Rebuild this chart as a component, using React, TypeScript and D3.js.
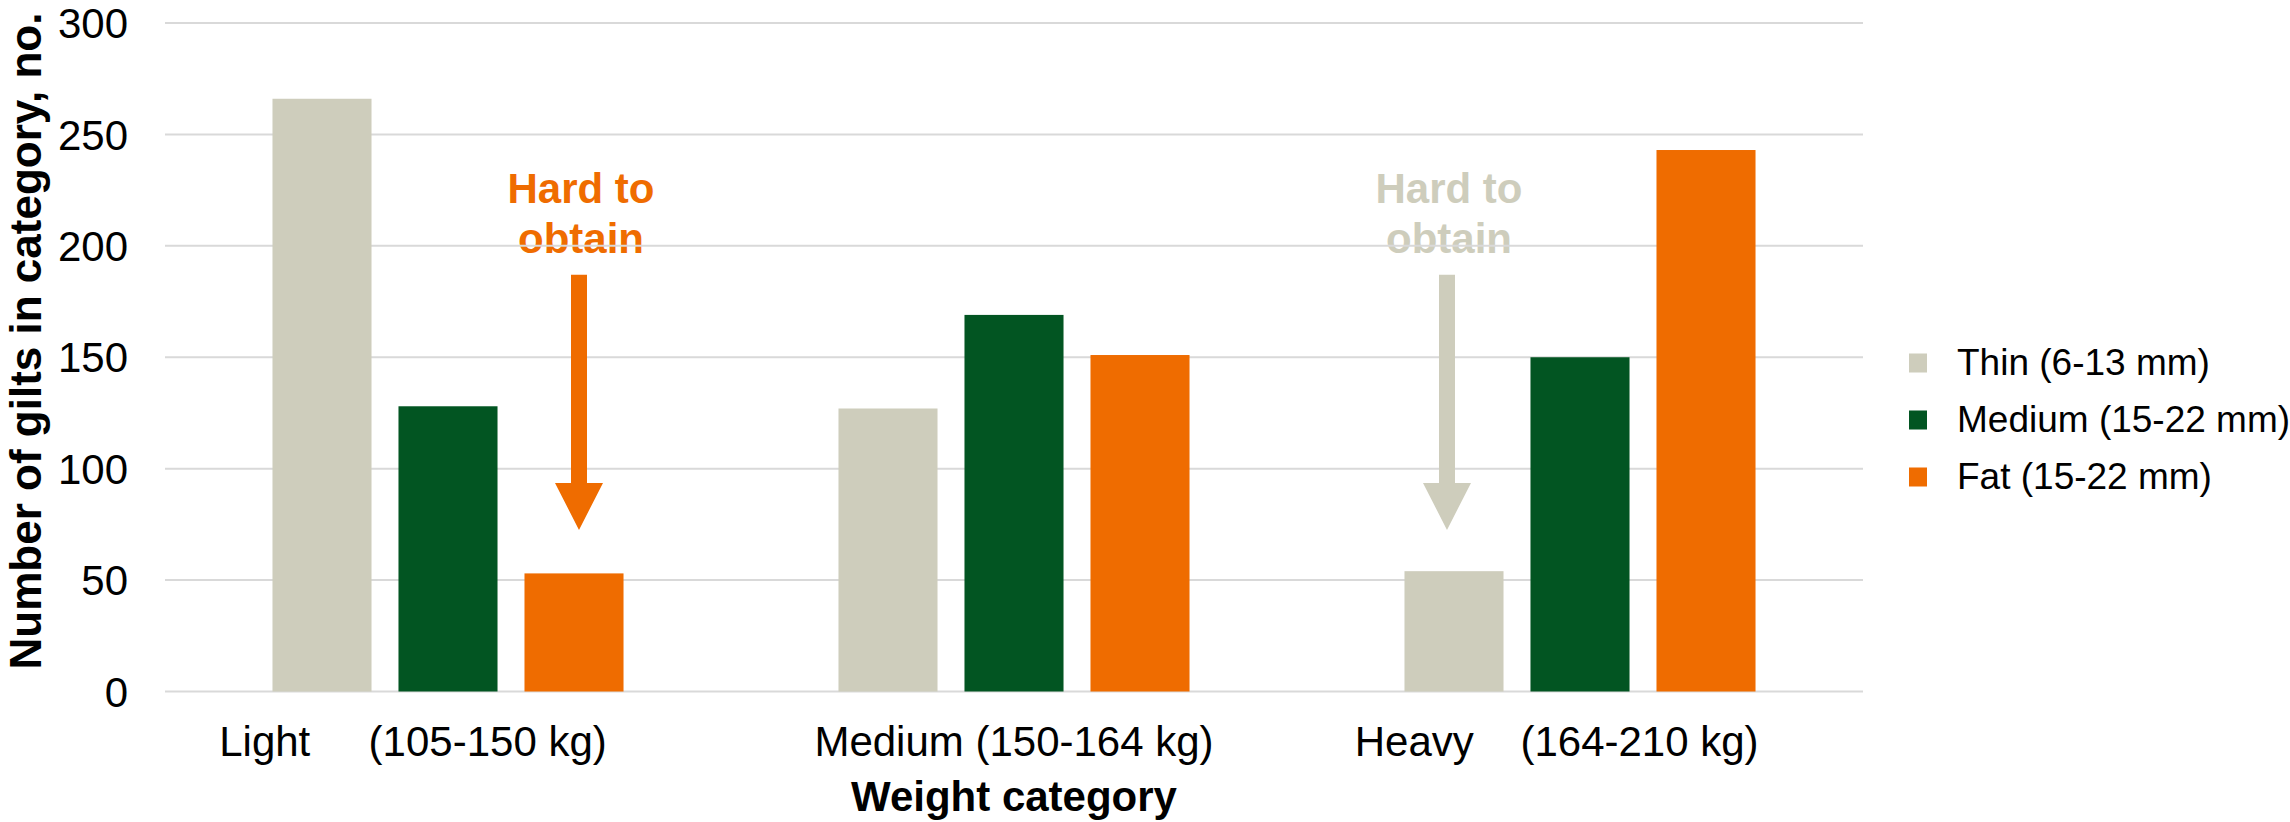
import React from "react";
import * as d3 from "d3";

const categories = ["Light", "Medium", "Heavy"];
const categoryLabels = [
  "Light     (105-150 kg)      ",
  "Medium (150-164 kg)",
  "Heavy    (164-210 kg)    ",
];
const seriesNames = ["Thin (6-13 mm)", "Medium (15-22 mm)", "Fat (15-22 mm)"];
const seriesColors = ["#CECDBC", "#025522", "#EF6C00"];
const thinValues = [266, 127, 54];
const mediumValues = [128, 169, 150];
const fatValues = [53, 151, 243];
const yTicks = [0, 50, 100, 150, 200, 250, 300];
const annotations = [
  { category: "Light", series: 1 + 1, color: "#EF6C00", textDx: 7, arrowDx: 5 },
  { category: "Heavy", series: 0, color: "#CECDBC", textDx: -5, arrowDx: -7 },
];
const annotationLines = ["Hard to", "obtain"];
const annotationTextValues = [219, 197];
const arrowTopValue = 187;
const arrowTipValue = 72.5;

const W = 2290;
const H = 822;
const FONT = "'Liberation Sans', Arial, Helvetica, sans-serif";

export default function App() {
  const values = [thinValues, mediumValues, fatValues];
  const x0 = d3.scaleBand<string>().domain(categories).range([165, 1863]).paddingInner(0).paddingOuter(0);
  const x1 = d3
    .scaleBand<string>()
    .domain(seriesNames)
    .range([0, x0.bandwidth()])
    .paddingInner(0.214)
    .paddingOuter(0.853);
  const y = d3.scaleLinear().domain([0, 300]).range([691.5, 23]);

  const shaftW = 16;
  const headW = 48;
  const headLen = 47;

  return (
    <svg
      width={W}
      height={H}
      viewBox={`0 0 ${W} ${H}`}
      style={{ position: "absolute", left: 0, top: 0, background: "#fff" }}
    >
      {/* annotation texts (behind gridlines) */}
      {annotations.map((a, i) => {
        const cx = (x0(a.category) as number) + (x1(seriesNames[a.series]) as number) + x1.bandwidth() / 2;
        return (
          <g key={"at" + i}>
            {annotationLines.map((t, j) => (
              <text
                key={j}
                x={cx + a.textDx}
                y={y(annotationTextValues[j])}
                textAnchor="middle"
                fontFamily={FONT}
                fontWeight="bold"
                fontSize={42}
                fill={a.color}
              >
                {t}
              </text>
            ))}
          </g>
        );
      })}

      {/* gridlines */}
      {yTicks.map((t) => (
        <line key={t} x1={165} x2={1863} y1={y(t)} y2={y(t)} stroke="#D9D9D9" strokeWidth={2} />
      ))}

      {/* y tick labels */}
      {yTicks.map((t) => (
        <text
          key={"yl" + t}
          x={128}
          y={y(t)}
          dy="0.36em"
          textAnchor="end"
          fontFamily={FONT}
          fontSize={42}
          fill="#000"
        >
          {t}
        </text>
      ))}

      {/* bars */}
      {categories.map((c, ci) => (
        <g key={c} transform={`translate(${x0(c)},0)`}>
          {seriesNames.map((s, si) => (
            <rect
              key={s}
              x={x1(s)}
              y={y(values[si][ci])}
              width={x1.bandwidth()}
              height={y(0) - y(values[si][ci])}
              fill={seriesColors[si]}
            />
          ))}
        </g>
      ))}

      {/* arrows */}
      {annotations.map((a, i) => {
        const cx =
          (x0(a.category) as number) + (x1(seriesNames[a.series]) as number) + x1.bandwidth() / 2 + a.arrowDx;
        const top = y(arrowTopValue);
        const tip = y(arrowTipValue);
        const base = tip - headLen;
        const path = d3.path();
        path.moveTo(cx - shaftW / 2, top);
        path.lineTo(cx + shaftW / 2, top);
        path.lineTo(cx + shaftW / 2, base);
        path.lineTo(cx + headW / 2, base);
        path.lineTo(cx, tip);
        path.lineTo(cx - headW / 2, base);
        path.lineTo(cx - shaftW / 2, base);
        path.closePath();
        return <path key={"ar" + i} d={path.toString()} fill={a.color} />;
      })}

      {/* category labels */}
      {categories.map((c, ci) => (
        <text
          key={"cl" + c}
          x={(x0(c) as number) + x0.bandwidth() / 2}
          y={756}
          textAnchor="middle"
          fontFamily={FONT}
          fontSize={42}
          fill="#000"
          style={{ whiteSpace: "pre" }}
          xmlSpace="preserve"
        >
          {categoryLabels[ci]}
        </text>
      ))}

      {/* x axis title */}
      <text
        x={(165 + 1863) / 2}
        y={811}
        textAnchor="middle"
        fontFamily={FONT}
        fontWeight="bold"
        fontSize={42}
        fill="#000"
      >
        Weight category
      </text>

      {/* y axis title */}
      <text
        transform={`translate(41,${341}) rotate(-90)`}
        textAnchor="middle"
        fontFamily={FONT}
        fontWeight="bold"
        fontSize={44}
        fill="#000"
      >
        Number of gilts in category, no.
      </text>

      {/* legend */}
      {seriesNames.map((s, i) => {
        const cy = 363 + i * 57;
        return (
          <g key={"lg" + s}>
            <rect x={1909} y={cy - 9.5} width={18} height={19} fill={seriesColors[i]} />
            <text x={1957} y={cy + 12} fontFamily={FONT} fontSize={37} fill="#000">
              {s}
            </text>
          </g>
        );
      })}
    </svg>
  );
}
